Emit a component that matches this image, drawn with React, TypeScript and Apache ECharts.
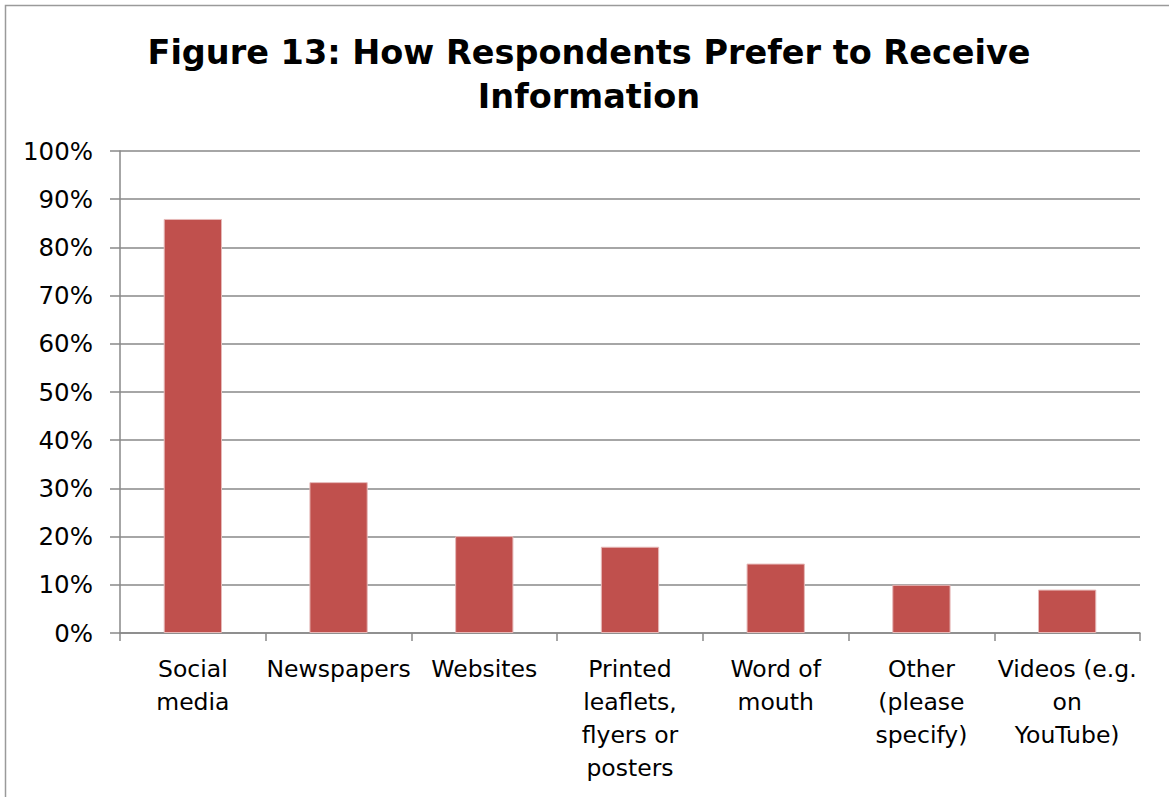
import React, { useEffect, useRef } from "react";
import * as echarts from "echarts";

const TITLE_LINES = ["Figure 13: How Respondents Prefer to Receive", "Information"];

const categories = [
  "Social\nmedia",
  "Newspapers",
  "Websites",
  "Printed\nleaflets,\nflyers or\nposters",
  "Word of\nmouth",
  "Other\n(please\nspecify)",
  "Videos (e.g.\non\nYouTube)",
];

// share of respondents, percent
const shares = [85.9, 31.3, 20.1, 17.9, 14.4, 10.0, 9.0];

const yTicks = { min: 0, max: 100, interval: 10 };

const FONT = "'DejaVu Sans', Verdana, sans-serif";
const AXIS_GRAY = "#888888";

export default function App() {
  const ref = useRef<HTMLDivElement>(null);

  useEffect(() => {
    document.body.style.margin = "0";
    if (!ref.current) return;
    const chart = echarts.init(ref.current, null, { renderer: "svg" });
    chart.setOption({
      animation: false,
      backgroundColor: "#ffffff",
      title: {
        text: TITLE_LINES.join("\n"),
        left: 589,
        textAlign: "center",
        top: 30,
        padding: 0,
        textStyle: {
          fontFamily: FONT,
          fontWeight: "bold",
          fontSize: 33.5,
          lineHeight: 44,
          color: "#000000",
        },
      },
      graphic: [
        {
          type: "rect",
          shape: { x: 5.5, y: 5.5, width: 1300, height: 900 },
          style: { fill: "none", stroke: "#9a9a9a", lineWidth: 1.5 },
          silent: true,
        },
      ],
      grid: { left: 120, right: 29, top: 151, bottom: 164, containLabel: false },
      xAxis: {
        type: "category",
        data: categories,
        boundaryGap: true,
        axisLine: { show: true, lineStyle: { color: AXIS_GRAY, width: 1.5 } },
        axisTick: { show: true, alignWithLabel: false, length: 8, lineStyle: { color: AXIS_GRAY, width: 1.5 } },
        axisLabel: {
          interval: 0,
          margin: 19,
          fontFamily: FONT,
          fontSize: 23.5,
          lineHeight: 33,
          color: "#000000",
          align: "center",
        },
      },
      yAxis: {
        type: "value",
        min: yTicks.min,
        max: yTicks.max,
        interval: yTicks.interval,
        axisLine: { show: true, lineStyle: { color: AXIS_GRAY, width: 1.5 } },
        axisTick: { show: true, length: 10, lineStyle: { color: AXIS_GRAY, width: 1.5 } },
        splitLine: { show: true, lineStyle: { color: AXIS_GRAY, width: 1.5 } },
        axisLabel: {
          margin: 27,
          fontFamily: FONT,
          fontSize: 24.5,
          color: "#000000",
          formatter: (v: number) => `${v}%`,
        },
      },
      series: [
        {
          type: "bar",
          data: shares,
          barWidth: "40%",
          itemStyle: { color: "#C0504D", borderColor: "#E6B9B8", borderWidth: 1 },
        },
      ],
    });
    return () => chart.dispose();
  }, []);

  return <div ref={ref} style={{ width: 1169, height: 797 }} />;
}
